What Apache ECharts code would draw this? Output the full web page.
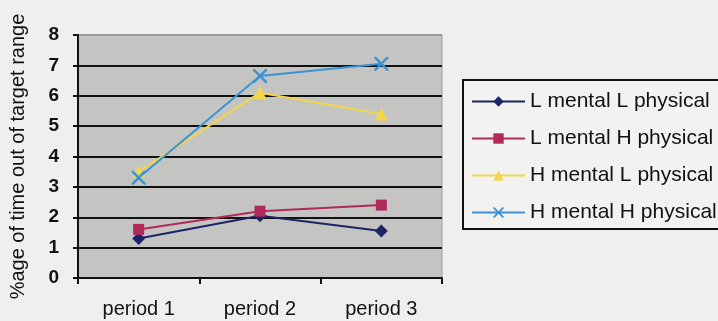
<!DOCTYPE html>
<html>
<head>
<meta charset="utf-8">
<style>
  html, body { margin: 0; padding: 0; background: #efefed; }
  #chart { width: 718px; height: 321px; }
</style>
<script src="https://cdn.jsdelivr.net/npm/echarts@6/dist/echarts.min.js"></script>
</head>
<body>
<div id="chart"></div>
<script>
// Categories and series values
const categories = ['period 1', 'period 2', 'period 3'];
const lowMentalLowPhysical = [1.3, 2.05, 1.55];
const lowMentalHighPhysical = [1.6, 2.2, 2.4];
const highMentalLowPhysical = [3.5, 6.1, 5.4];
const highMentalHighPhysical = [3.3, 6.65, 7.05];
const seriesNames = ['L mental L physical', 'L mental H physical', 'H mental L physical', 'H mental H physical'];

const FONT = 'Liberation Sans, Arial, sans-serif';
const crossPath = 'path://M0,0 L2.5,0 L10,7.5 L17.5,0 L20,0 L20,2.5 L12.5,10 L20,17.5 L20,20 L17.5,20 L10,12.5 L2.5,20 L0,20 L0,17.5 L7.5,10 L0,2.5 Z';

function lineSeries(name, data, color, symbol, size) {
  return {
    name: name,
    type: 'line',
    data: data,
    symbol: symbol,
    symbolSize: size,
    showAllSymbol: true,
    lineStyle: { color: color, width: 2 },
    itemStyle: { color: color },
    emphasis: { disabled: true },
    z: 3
  };
}

const chart = echarts.init(document.getElementById('chart'), null, { renderer: 'canvas' });
chart.setOption({
  backgroundColor: '#efefed',
  animation: false,
  textStyle: { fontFamily: FONT },
  grid: {
    left: 71, right: 276, top: 35, bottom: 43,
    show: true,
    backgroundColor: '#c4c4c2',
    borderColor: '#9a9a98',
    borderWidth: 1
  },
  legend: {
    orient: 'vertical',
    left: 463, top: 80,
    data: seriesNames,
    itemWidth: 53, itemHeight: 13,
    itemGap: 16,
    padding: [11, 40, 6, 8],
    borderColor: '#111',
    borderWidth: 2,
    backgroundColor: '#f2f2f0',
    textStyle: { fontFamily: FONT, fontSize: 21, color: '#111', padding: [0, 0, 0, 0] },
    selectedMode: false
  },
  xAxis: {
    type: 'category',
    data: categories,
    boundaryGap: true,
    axisLine: { lineStyle: { color: '#111', width: 2 } },
    axisTick: { show: true, alignWithLabel: false, length: 6, lineStyle: { color: '#111', width: 2 } },
    axisLabel: { fontFamily: FONT, fontSize: 20, color: '#111', margin: 21 },
    splitLine: { show: false }
  },
  yAxis: {
    type: 'value',
    min: 0, max: 8, interval: 1,
    name: '%age of time out of target range',
    nameLocation: 'middle',
    nameGap: 50,
    nameTextStyle: { fontFamily: FONT, fontSize: 20, color: '#111' },
    axisLine: { show: true, lineStyle: { color: '#111', width: 2 } },
    axisTick: { show: true, length: 5, lineStyle: { color: '#111', width: 2 } },
    axisLabel: { fontFamily: FONT, fontSize: 19, fontWeight: 'bold', color: '#111', margin: 19 },
    splitLine: {
      show: true,
      lineStyle: {
        color: ['#111', '#111', '#111', '#111', '#111', '#111', '#111', '#111', '#9a9a98'],
        width: 2
      }
    }
  },
  series: [
    lineSeries(seriesNames[0], lowMentalLowPhysical, '#1c2366', 'diamond', 13),
    lineSeries(seriesNames[1], lowMentalHighPhysical, '#b02a5c', 'rect', 11),
    lineSeries(seriesNames[2], highMentalLowPhysical, '#f2d64a', 'triangle', 13),
    lineSeries(seriesNames[3], highMentalHighPhysical, '#3a94d4', crossPath, 14)
  ]
});
</script>
</body>
</html>
